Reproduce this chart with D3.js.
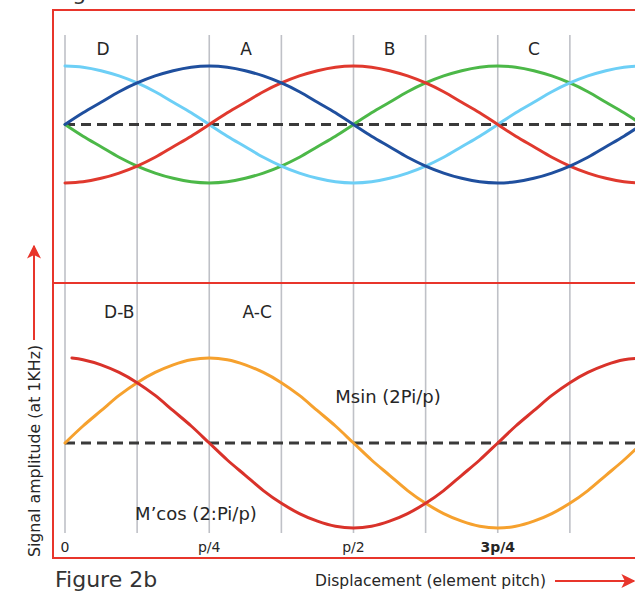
<!DOCTYPE html>
<html><head><meta charset="utf-8">
<script src="https://cdn.jsdelivr.net/npm/d3@7"></script>
<style>html,body{margin:0;padding:0;background:#fff;overflow:hidden}svg{display:block}</style>
</head><body>
<svg id="c" width="635" height="591"></svg>
<script>
// ---- data (displacement in units of pitch p, amplitude normalised) ----
const xs = [0,0.03125,0.0625,0.09375,0.125,0.15625,0.1875,0.21875,0.25,0.28125,0.3125,0.34375,0.375,0.40625,0.4375,0.46875,
            0.5,0.53125,0.5625,0.59375,0.625,0.65625,0.6875,0.71875,0.75,0.78125,0.8125,0.84375,0.875,0.90625,0.9375,0.96875,1];
const lightBlue = [1,0.98,0.92,0.83,0.71,0.56,0.38,0.2,0,-0.2,-0.38,-0.56,-0.71,-0.83,-0.92,-0.98,-1,-0.98,-0.92,-0.83,-0.71,-0.56,-0.38,-0.2,0,0.2,0.38,0.56,0.71,0.83,0.92,0.98,1];
const darkBlue  = [0,0.2,0.38,0.56,0.71,0.83,0.92,0.98,1,0.98,0.92,0.83,0.71,0.56,0.38,0.2,0,-0.2,-0.38,-0.56,-0.71,-0.83,-0.92,-0.98,-1,-0.98,-0.92,-0.83,-0.71,-0.56,-0.38,-0.2,0];
const redTop    = [-1,-0.98,-0.92,-0.83,-0.71,-0.56,-0.38,-0.2,0,0.2,0.38,0.56,0.71,0.83,0.92,0.98,1,0.98,0.92,0.83,0.71,0.56,0.38,0.2,0,-0.2,-0.38,-0.56,-0.71,-0.83,-0.92,-0.98,-1];
const green     = [0,-0.2,-0.38,-0.56,-0.71,-0.83,-0.92,-0.98,-1,-0.98,-0.92,-0.83,-0.71,-0.56,-0.38,-0.2,0,0.2,0.38,0.56,0.71,0.83,0.92,0.98,1,0.98,0.92,0.83,0.71,0.56,0.38,0.2,0];
const xsRed     = [0.012,0.03125,0.0625,0.09375,0.125,0.15625,0.1875,0.21875,0.25,0.28125,0.3125,0.34375,0.375,0.40625,0.4375,0.46875,
            0.5,0.53125,0.5625,0.59375,0.625,0.65625,0.6875,0.71875,0.75,0.78125,0.8125,0.84375,0.875,0.90625,0.9375,0.96875,1];
const redBottom = [1,0.98,0.92,0.83,0.71,0.56,0.38,0.2,0,-0.2,-0.38,-0.56,-0.71,-0.83,-0.92,-0.98,-1,-0.98,-0.92,-0.83,-0.71,-0.56,-0.38,-0.2,0,0.2,0.38,0.56,0.71,0.83,0.92,0.98,1];
const orange    = [0,0.2,0.38,0.56,0.71,0.83,0.92,0.98,1,0.98,0.92,0.83,0.71,0.56,0.38,0.2,0,-0.2,-0.38,-0.56,-0.71,-0.83,-0.92,-0.98,-1,-0.98,-0.92,-0.83,-0.71,-0.56,-0.38,-0.2,0];
const gridX     = [0,0.125,0.25,0.375,0.5,0.625,0.75,0.875];
const topLabels = ["D","A","B","C"];
const topLabelX = [0.066,0.314,0.5625,0.8125];
const botLabels = ["D-B","A-C"];
const botLabelX = [0.094,0.333];
const tickVals  = [0,0.25,0.5,0.75];
const tickText  = ["0","p/4","p/2","3p/4"];

const svg = d3.select("#c");
const RED = "#e8352b";
const FONT = "DejaVu Sans, Verdana, sans-serif";
const TXT = "#262626";

const x = d3.scaleLinear().domain([0,1]).range([65,642]);
const yT = d3.scaleLinear().domain([-1,1]).range([183,66]);
const yB = d3.scaleLinear().domain([-1,1]).range([528,358]);

// arrow marker
const defs = svg.append("defs");
defs.append("marker").attr("id","arr").attr("viewBox","0 0 10 10").attr("refX",9).attr("refY",5)
  .attr("markerWidth",14).attr("markerHeight",14).attr("markerUnits","userSpaceOnUse").attr("orient","auto")
  .append("path").attr("d","M0,0 L10,5 L0,10 L2.5,5 Z").attr("fill",RED);

// grid lines
svg.append("g").selectAll("line").data(gridX).join("line")
  .attr("x1",d=>x(d)).attr("x2",d=>x(d)).attr("y1",35).attr("y2",533)
  .attr("stroke","#bfc1c7").attr("stroke-width",1.6);

// frame
svg.append("rect").attr("x",53).attr("y",10).attr("width",600).attr("height",548)
  .attr("fill","none").attr("stroke",RED).attr("stroke-width",2);
svg.append("line").attr("x1",53).attr("x2",640).attr("y1",283).attr("y2",283)
  .attr("stroke",RED).attr("stroke-width",2);

// dashed zero lines
[yT(0), yB(0)].forEach(yy=>{
  svg.append("line").attr("x1",x(0)).attr("x2",640).attr("y1",yy).attr("y2",yy)
    .attr("stroke","#3a3a3a").attr("stroke-width",3).attr("stroke-dasharray","10,6");
});

function curve(xv, yv, ys, color){
  const line = d3.line().x((d,i)=>x(xv[i])).y(d=>ys(d)).curve(d3.curveCatmullRom.alpha(0.5));
  svg.append("path").datum(yv).attr("d",line).attr("fill","none")
    .attr("stroke",color).attr("stroke-width",3).attr("stroke-linecap","round");
}
curve(xs, green, yT, "#4cb848");
curve(xs, lightBlue, yT, "#6dcff6");
curve(xs, redTop, yT, "#e0392e");
curve(xs, darkBlue, yT, "#1f4f9e");
curve(xs, orange, yB, "#f6a12e");
curve(xsRed, redBottom, yB, "#d9322a");

// panel labels
svg.append("g").selectAll("text").data(topLabels).join("text")
  .attr("x",(d,i)=>x(topLabelX[i])).attr("y",55).attr("text-anchor","middle")
  .attr("font-family",FONT).attr("font-size",17).attr("fill",TXT).text(d=>d);
svg.append("g").selectAll("text").data(botLabels).join("text")
  .attr("x",(d,i)=>x(botLabelX[i])).attr("y",318).attr("text-anchor","middle")
  .attr("font-family",FONT).attr("font-size",17).attr("fill",TXT).text(d=>d);

svg.append("text").attr("x",388).attr("y",403).attr("text-anchor","middle")
  .attr("font-family",FONT).attr("font-size",18).attr("fill",TXT).text("Msin (2Pi/p)");
svg.append("text").attr("x",196).attr("y",520).attr("text-anchor","middle")
  .attr("font-family",FONT).attr("font-size",18).attr("fill",TXT).text("M\u2019cos (2:Pi/p)");

// tick labels
svg.append("g").selectAll("text").data(tickVals).join("text")
  .attr("x",d=>x(d)).attr("y",552).attr("text-anchor","middle")
  .attr("font-family",FONT).attr("font-size",14).attr("fill",TXT)
  .attr("font-weight",(d,i)=>i===3?"bold":"normal").text((d,i)=>tickText[i]);

// y axis label + arrow
svg.append("line").attr("x1",34).attr("x2",34).attr("y1",340).attr("y2",246)
  .attr("stroke",RED).attr("stroke-width",2).attr("marker-end","url(#arr)");
svg.append("text").attr("transform","translate(40,451) rotate(-90)").attr("text-anchor","middle")
  .attr("font-family",FONT).attr("font-size",15.8).attr("fill",TXT).text("Signal amplitude (at 1KHz)");

// x axis label + arrow
svg.append("text").attr("x",315).attr("y",586)
  .attr("font-family",FONT).attr("font-size",15.5).attr("fill",TXT).text("Displacement (element pitch)");
svg.append("line").attr("x1",555).attr("x2",634).attr("y1",581).attr("y2",581)
  .attr("stroke",RED).attr("stroke-width",2).attr("marker-end","url(#arr)");

// figure titles
svg.append("text").attr("x",55).attr("y",587).attr("font-family",FONT).attr("font-size",22)
  .attr("fill","#333").text("Figure 2b");
svg.append("text").attr("x",55).attr("y",-0.5).attr("font-family",FONT).attr("font-size",22)
  .attr("fill","#333").text("Figure 2a");
</script>
</body></html>
